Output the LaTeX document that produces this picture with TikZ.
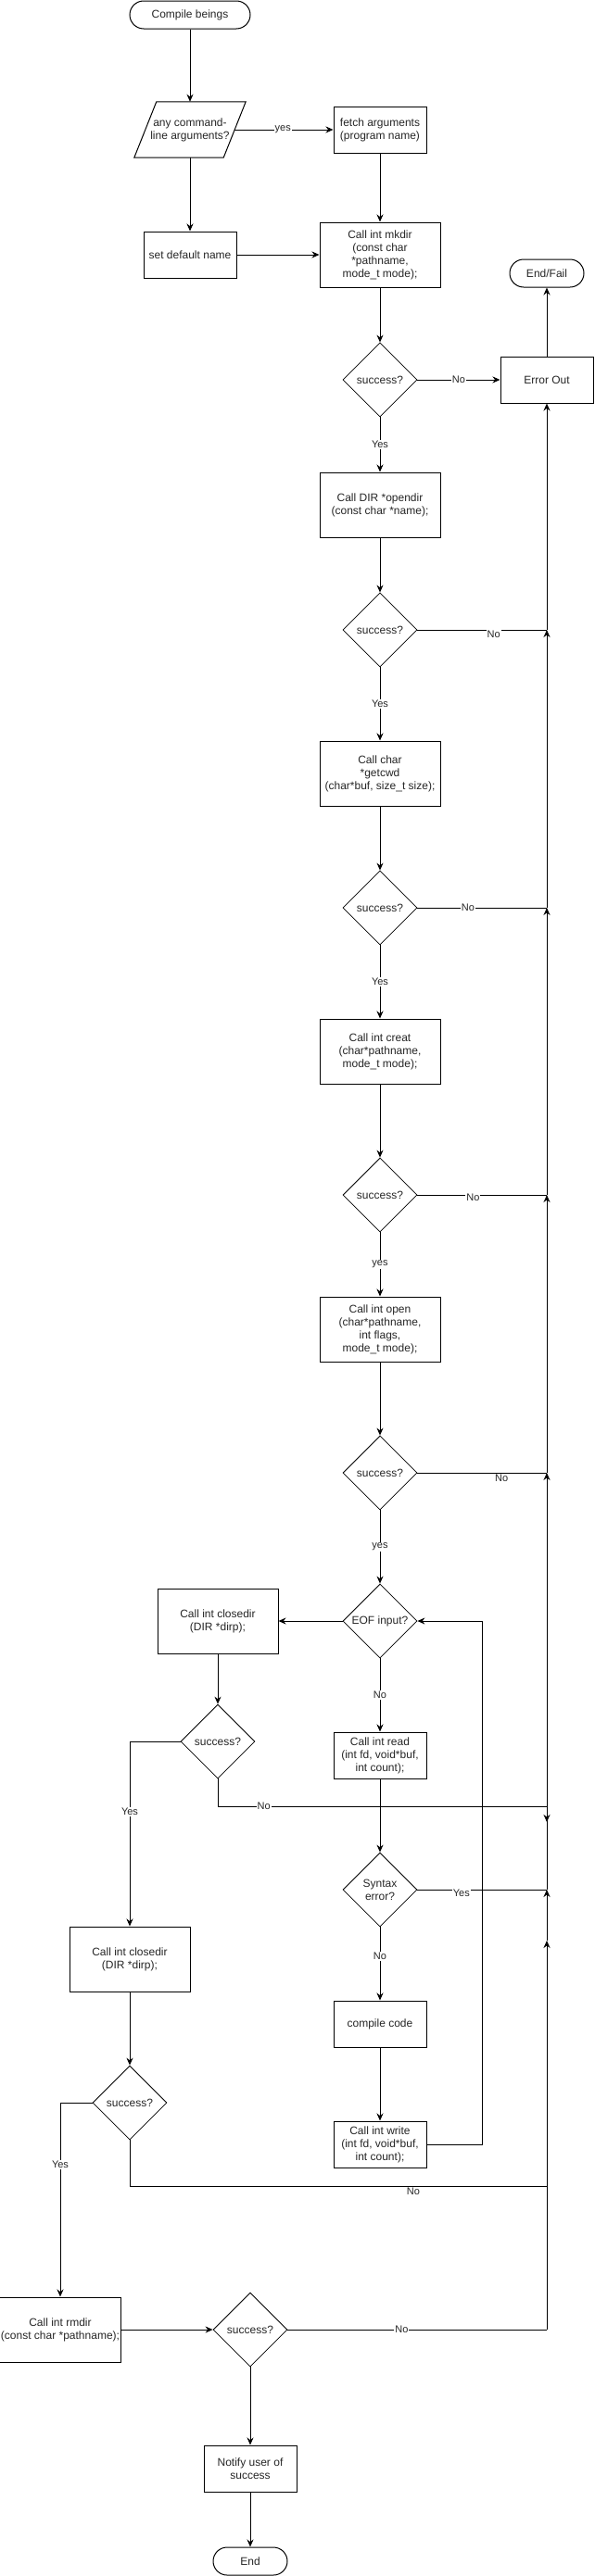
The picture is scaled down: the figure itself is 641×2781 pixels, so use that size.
\documentclass[tikz,border=0pt]{standalone}
\usepackage{fontspec}
\setmainfont{Liberation Sans}
\usetikzlibrary{shapes.geometric,arrows.meta}

\begin{document}
\begin{tikzpicture}[
x=1pt,y=-1pt,
every node/.style={
font=\fontsize{12}{14}\selectfont,
text=black!85,
align=center,
},
term/.style={%
draw,
line width=1pt,
rounded corners=15pt,
minimum width=130pt,
minimum height=30pt,
inner sep=0pt,
},
box/.style={%
draw,
line width=1pt,
minimum width=130pt,
minimum height=70pt,
inner sep=1pt,
},
sbox/.style={%
box,
minimum width=100pt,
minimum height=50pt,
},
dec/.style={%
diamond,
aspect=1,
draw,
line width=0.8pt,
minimum width=80pt,
minimum height=80pt,
inner sep=0pt,
},
io/.style={%
minimum width=96pt,
minimum height=60pt,
inner sep=0pt,
},
lbl/.style={
font=\fontsize{11}{13}\selectfont,
fill=white,
inner sep=1pt,
},
line/.style={line width=1pt},
arr/.style={line width=1pt,-{Stealth[length=8pt,width=7pt]}}
]

\useasboundingbox(0,0)rectangle(641,2781);

%main column
\node[term](start)at(205,16){Compile beings};
\node[io](args)at(205,140){any command-\\line arguments?};
\draw[line]([xshift=12pt]args.north west)--([xshift=12pt]args.north east)--([xshift=-12pt]args.south east)--([xshift=-12pt]args.south west)--cycle;
\node[sbox](fetch)at(410,140){fetch arguments\\(program name)};
\node[sbox](setdef)at(205,275){set default name};
\node[box](mkdir)at(410,275){Call int mkdir\\(const char\\*pathname,\\mode\_t mode);};
\node[term,minimum width=80pt](fail)at(590,295){End/Fail};
\node[sbox](err)at(590,410){Error Out};
\node[dec](d1)at(410,410){success?};
\node[box](opendir)at(410,545){Call DIR *opendir\\(const char *name);};
\node[dec](d2)at(410,680){success?};
\node[box](getcwd)at(410,835){Call char\\*getcwd\\(char*buf, size\_t size);};
\node[dec](d3)at(410,980){success?};
\node[box](creat)at(410,1135){Call int creat\\(char*pathname,\\mode\_t mode);};
\node[dec](d4)at(410,1290){success?};
\node[box](open)at(410,1435){Call int open\\(char*pathname,\\int flags,\\mode\_t mode);};
\node[dec](d5)at(410,1590){success?};
\node[dec](eof)at(410,1750){EOF input?};
\node[sbox](read)at(410,1895){Call int read\\(int fd, void*buf,\\int count);};
\node[dec](syn)at(410,2040){Syntax\\error?};
\node[sbox](comp)at(410,2185){compile code};
\node[sbox](write)at(410,2315){Call int write\\(int fd, void*buf,\\int count);};

%closing side
\node[box](close1)at(235,1750){Call int closedir\\(DIR *dirp);};
\node[dec](c1)at(235,1880){success?};
\node[box](close2)at(140,2115){Call int closedir\\(DIR *dirp);};
\node[dec](c2)at(140,2270){success?};
\node[box](rmdir)at(65,2515){Call int rmdir\\(const char *pathname);};
\node[dec](s3)at(270,2515){success?};
\node[sbox](notify)at(270,2665){Notify user of\\success};
\node[term,minimum width=80pt](end)at(270,2765){End};

%error trunk
\coordinate(j2)at(590,680);
\coordinate(j3)at(590,980);
\coordinate(j4)at(590,1290);
\coordinate(j5)at(590,1590);
\coordinate(j6)at(590,1950);
\coordinate(j6b)at(590,1967);
\coordinate(j7)at(590,2040);
\coordinate(jb)at(590,2095);
\coordinate(j8)at(590,2360);
\coordinate(j9)at(590,2515);
\coordinate(loop)at(520,1750);

\draw[arr](start)--(args);
\draw[arr](args.east)--node[lbl,pos=0.49]{yes}(fetch.west);
\draw[arr](args.south)--(setdef.north);
\draw[arr](fetch)--(mkdir);
\draw[arr](setdef)--(mkdir);
\draw[arr](mkdir)--(d1);
\draw[arr](d1.east)--node[lbl]{No}(err.west);
\draw[arr](err)--(fail);
\draw[arr](d1)--node[lbl]{Yes}(opendir);
\draw[arr](opendir)--(d2);
\draw[arr](d2)--node[lbl]{Yes}(getcwd);
\draw[arr](getcwd)--(d3);
\draw[arr](d3)--node[lbl]{Yes}(creat);
\draw[arr](creat)--(d4);
\draw[arr](d4)--node[lbl]{yes}(open);
\draw[arr](open)--(d5);
\draw[arr](d5)--node[lbl]{yes}(eof);
\draw[arr](eof)--node[lbl]{No}(read);
\draw[arr](read)--(syn);
\draw[arr](syn)--node[lbl,pos=0.4]{No}(comp);
\draw[arr](comp)--(write);
\draw[arr](write.east)-|(loop)--(eof.east);

\draw[arr](eof.west)--(close1.east);
\draw[arr](close1)--(c1);
\draw[arr](c1.west)-|node[lbl,pos=0.69]{Yes}(close2.north);
\draw[arr](close2)--(c2);
\draw[arr](c2.west)-|node[lbl,pos=0.66]{Yes}(rmdir.north);
\draw[arr](rmdir.east)--(s3.west);
\draw[arr](s3)--(notify);
\draw[arr](notify)--(end);

\draw[line](d2.east)--node[lbl,pos=0.59,yshift=-5pt]{No}(j2);
\draw[line](d3.east)--node[lbl,pos=0.39]{No}(j3);
\draw[line](d4.east)--node[lbl,pos=0.43,yshift=-3pt]{No}(j4);
\draw[line](d5.east)--node[lbl,pos=0.65,yshift=-6pt]{No}(j5);
\draw[arr](c1.south)|-node[lbl,pos=0.57]{No}(j6)--(j6b);
\draw[line](syn.east)--node[lbl,pos=0.34,yshift=-4pt]{Yes}(j7);
\draw[line](c2.south)|-node[lbl,pos=0.84,yshift=-6pt]{No}(j8);
\draw[line](s3.east)--node[lbl,pos=0.44]{No}(j9);

\draw[arr](j2)--(err.south);
\draw[arr](j3)--(j2);
\draw[arr](j4)--(j3);
\draw[arr](j5)--(j4);
\draw[arr](j7)--(j5);
\draw[arr](jb)--(j7);
\draw[arr](j9)--(jb);

\end{tikzpicture}
\end{document}
